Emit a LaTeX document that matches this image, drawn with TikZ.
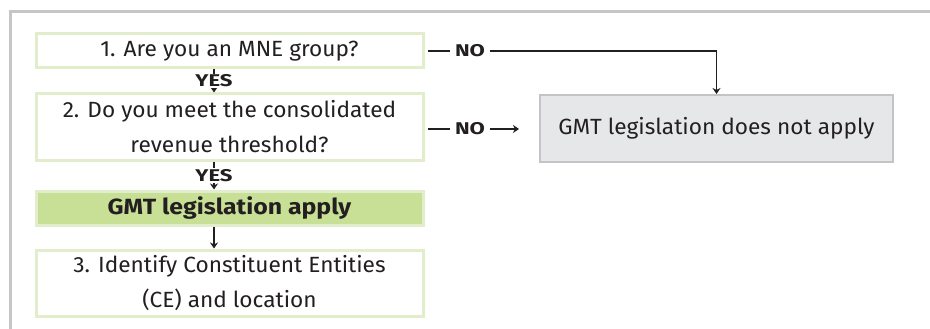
\documentclass[tikz,border=0pt]{standalone}
\usepackage{fontspec}
\setmainfont{Fira Sans}
\newfontfamily\boxfont[FakeStretch=1.03]{Fira Sans}
\newfontfamily\headfont[FakeStretch=1.13]{Fira Sans}
\newfontfamily\lblfont[FakeStretch=1.3]{Fira Sans}
\usetikzlibrary{arrows.meta}
\definecolor{boxgreen}{HTML}{E2EECB}
\definecolor{fillgreen}{HTML}{C8E096}
\definecolor{graybox}{HTML}{E6E7E8}
\definecolor{grayline}{HTML}{C3C3C8}
\definecolor{framegray}{HTML}{C6C6C6}
\definecolor{ink}{HTML}{231F20}
\begin{document}
\begin{tikzpicture}[x=1pt,y=-1pt,
  qbox/.style={draw=boxgreen, line width=3pt, fill=white, minimum width=387pt,
    inner sep=0pt, align=center, text=ink, font=\boxfont\fontsize{22}{35}\selectfont},
  gbox/.style={qbox, fill=fillgreen, font=\headfont\fontsize{22}{35}\selectfont\bfseries},
  nbox/.style={draw=grayline, line width=2pt, fill=graybox, minimum width=353pt,
    minimum height=67pt, inner sep=0pt, text=ink, font=\boxfont\fontsize{22}{35}\selectfont},
  lbl/.style={fill=white, inner sep=1pt, text=ink, font=\lblfont\fontsize{17}{18}\selectfont\bfseries},
  nolbl/.style={lbl, inner xsep=5pt},
  conn/.style={draw=ink, line width=1.6pt},
  arr/.style={conn, -{Stealth[length=6pt,width=8pt]}}
]
\useasboundingbox (0,0) rectangle (930,329);
\draw[framegray, line width=3pt] (10,329) -- (10,12) -- (930,12);

\node[qbox, minimum height=34pt] (b1) at (229.5,51) {1. Are you an MNE group?};
\node[qbox, minimum height=66pt] (b2) at (229.5,127) {2. Do you meet the consolidated\\revenue threshold?};
\node[gbox, minimum height=34pt] (b3) at (229.5,208) {GMT legislation apply};
\node[qbox, minimum height=66pt] (b4) at (229.5,283) {3. Identify Constituent Entities\\(CE) and location};
\node[nbox] (g) at (716.5,128.5) {GMT legislation does not apply};

\draw[arr] ([xshift=-15.5pt]b1.south) -- node[lbl]{YES} ([xshift=-15.5pt]b2.north);
\draw[arr] ([xshift=-15.5pt]b2.south) -- node[lbl]{YES} ([xshift=-15.5pt]b3.north);
\draw[arr] ([xshift=-15.5pt]b3.south) -- ([xshift=-15.5pt]b4.north);

\node[nolbl] (no1) at (470,51) {NO};
\node[nolbl] (no2) at (470,129) {NO};
\coordinate (a2) at (519,129);
\draw[conn] ([xshift=3pt]b1.east |- no1) -- (no1.west);
\draw[arr] (no1.east) -| (g.north);
\draw[conn] ([xshift=3pt]b2.east |- no2) -- (no2.west);
\draw[arr] (no2.east) -- (a2);
\end{tikzpicture}
\end{document}
